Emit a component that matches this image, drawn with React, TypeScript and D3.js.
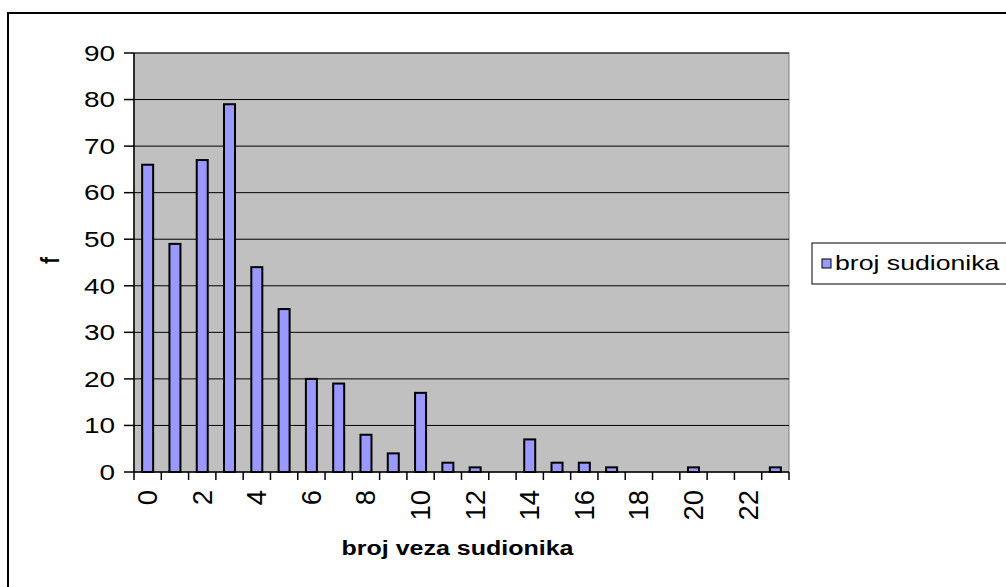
import React from "react";
import * as d3 from "d3";

const categories: number[] = [0,1,2,3,4,5,6,7,8,9,10,11,12,13,14,15,16,17,18,19,20,21,22,23];
const values: number[] = [66,49,67,79,44,35,20,19,8,4,17,2,1,0,7,2,2,1,0,0,1,0,0,1];
const yTicks: number[] = [0,10,20,30,40,50,60,70,80,90];
const xTickLabels: number[] = [0,2,4,6,8,10,12,14,16,18,20,22];
const seriesName = "broj sudionika";
const xTitle = "broj veza sudionika";
const yTitle = "f";

const FONT = "Arial, 'Liberation Sans', sans-serif";
const SX = 1.3;

export default function App() {
  const W = 1006, H = 587;
  const left = 134, right = 789, top = 53, bottom = 472;
  const x = d3.scaleBand<number>().domain(categories).range([left, right]).paddingInner(0).paddingOuter(0);
  const y = d3.scaleLinear().domain([0, 90]).range([bottom, top]);
  const bw = 11;
  const bounds = d3.range(categories.length + 1).map(i => left + i * x.step());

  return (
    <svg width={W} height={H} style={{ position: "absolute", left: 0, top: 0 }} fontFamily={FONT}>
      <rect x={0} y={0} width={W} height={H} fill="#fff" />
      <rect x={8} y={13} width={1100} height={700} fill="none" stroke="#000" strokeWidth={2} />
      <rect x={left} y={top} width={right - left} height={bottom - top} fill="#c0c0c0" stroke="#808080" strokeWidth={1} />
      {yTicks.filter(t => t > 0).map(t => (
        <line key={"g" + t} x1={left} x2={right} y1={y(t)} y2={y(t)} stroke="#000" strokeWidth={1} />
      ))}
      {categories.map((c, i) => (
        <rect key={"b" + c}
          x={(x(c) as number) + x.bandwidth() / 2 - bw / 2}
          y={y(values[i])}
          width={bw}
          height={bottom - y(values[i])}
          fill="#9999ff" stroke="#000" strokeWidth={2} />
      ))}
      <line x1={left} x2={left} y1={top} y2={bottom} stroke="#000" strokeWidth={1.5} />
      <line x1={left} x2={right} y1={bottom} y2={bottom} stroke="#000" strokeWidth={1.5} />
      {yTicks.map(t => (
        <g key={"yt" + t}>
          <line x1={left - 10} x2={left} y1={y(t)} y2={y(t)} stroke="#000" strokeWidth={1.5} />
          <text transform={`translate(115,${y(t)}) scale(${SX},1)`} textAnchor="end" dominantBaseline="central" fontSize={21.5} fill="#000">{t}</text>
        </g>
      ))}
      {bounds.map((b, i) => (
        <line key={"xt" + i} x1={b} x2={b} y1={bottom} y2={bottom + 8} stroke="#000" strokeWidth={1.5} />
      ))}
      {xTickLabels.map(t => (
        <text key={"xl" + t}
          transform={`translate(${(x(t) as number) + x.bandwidth() / 2},490) rotate(-90)`}
          textAnchor="end" dominantBaseline="central" fontSize={27.5} fill="#000">{t}</text>
      ))}
      <text transform={`translate(${(left + right) / 2 - 4},555) scale(1.25,1)`} textAnchor="middle" fontSize={20} fontWeight="bold" fill="#000">{xTitle}</text>
      <text transform={`translate(50,${(top + bottom) / 2 - 2}) rotate(-90) scale(1,1.3)`} textAnchor="middle" dominantBaseline="central" fontSize={20} fontWeight="bold" fill="#000">{yTitle}</text>
      <rect x={812} y={243} width={220} height={41} fill="#fff" stroke="#000" strokeWidth={1} />
      <rect x={822} y={259} width={9} height={9} fill="#9999ff" stroke="#000" strokeWidth={1} />
      <text transform={`translate(835,270) scale(${SX},1)`} fontSize={20.5} fill="#000">{seriesName}</text>
    </svg>
  );
}
